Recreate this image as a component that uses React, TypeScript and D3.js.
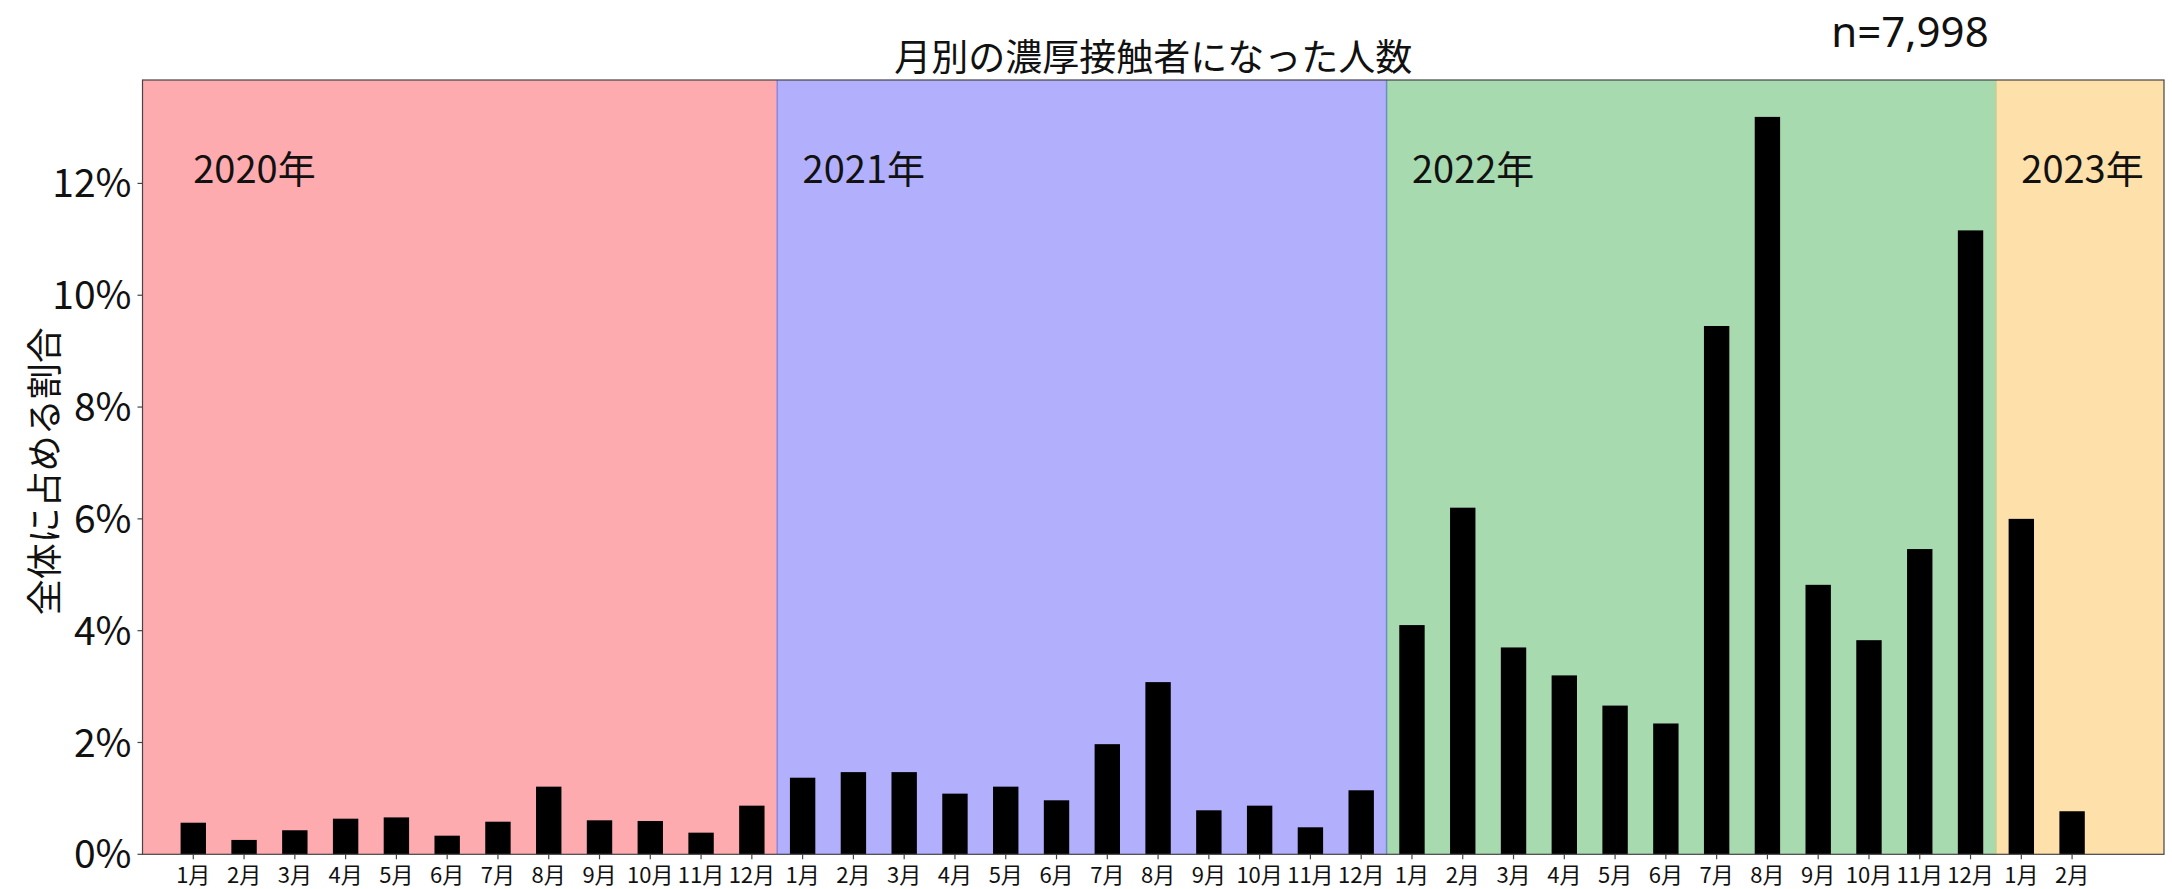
import React from "react";
import * as d3 from "d3";

const yearLabels = ["2020年", "2021年", "2022年", "2023年"];
const values2020 = [0.565, 0.257, 0.43, 0.637, 0.66, 0.333, 0.583, 1.21, 0.608, 0.596, 0.387, 0.87];
const values2021 = [1.37, 1.47, 1.47, 1.085, 1.21, 0.966, 1.97, 3.08, 0.787, 0.87, 0.483, 1.145];
const values2022 = [4.1, 6.2, 3.7, 3.2, 2.66, 2.34, 9.45, 13.19, 4.82, 3.83, 5.46, 11.16];
const values2023 = [6.0, 0.77];
const yTicks = [0, 2, 4, 6, 8, 10, 12];
const spanColors = ["#feabaf", "#b2b0fc", "#a8dab0", "#fee0aa"];
const edgeColors = ["#8c86e2", "#6592bf", "#c6cd8f"];
const title = "月別の濃厚接触者になった人数";
const nLabel = "n=7,998";
const yLabel = "全体に占める割合";

const W = 2172;
const H = 889;
const FONT = "'Noto Sans CJK JP', 'Noto Sans', sans-serif";

export default function App() {
  const series = [values2020, values2021, values2022, values2023];
  const bars: { label: string; value: number; idx: number }[] = [];
  const spans: { start: number; end: number; year: string; first: number }[] = [];
  let idx = 0;
  series.forEach((vals, yi) => {
    const first = idx;
    vals.forEach((v, mi) => {
      bars.push({ label: `${mi + 1}月`, value: v, idx });
      idx++;
    });
    spans.push({ start: first - 0.5, end: idx - 0.5, year: yearLabels[yi], first });
  });
  const xMin = -1;
  const xMax = 38.81;
  spans[0].start = xMin;
  spans[spans.length - 1].end = xMax;

  const left = 142.5, right = 2164, top = 80, bottom = 854.3;
  const x = d3.scaleLinear().domain([xMin, xMax]).range([left, right]);
  const y = d3.scaleLinear().domain([0, 13.85]).range([bottom, top]);
  const barW = x(0.5) - x(0);

  return (
    <svg width={W} height={H} style={{ position: "absolute", left: 0, top: 0, background: "#fff" }} fontFamily={FONT}>
      <rect x={0} y={0} width={W} height={H} fill="#fff" />
      {spans.map((s, i) => (
        <rect key={"s" + i} x={x(s.start)} y={top} width={x(s.end) - x(s.start)} height={bottom - top} fill={spanColors[i]} />
      ))}
      {spans.slice(1).map((s, i) => (
        <line key={"e" + i} x1={x(s.start)} x2={x(s.start)} y1={top} y2={bottom} stroke={edgeColors[i]} strokeWidth={1.5} />
      ))}
      {bars.map((b) => (
        <rect key={"b" + b.idx} x={x(b.idx) - barW / 2} y={y(b.value)} width={barW} height={y(0) - y(b.value)} fill="#000" />
      ))}
      {spans.map((s, i) => (
        <text key={"y" + i} x={x(s.first)} y={y(12)} fontSize={38} fill="#111">{s.year}</text>
      ))}
      <rect x={left} y={top} width={right - left} height={bottom - top} fill="none" stroke="#444" strokeWidth={1.2} />
      {yTicks.map((t) => (
        <g key={"yt" + t}>
          <line x1={left - 5} x2={left} y1={y(t)} y2={y(t)} stroke="#444" strokeWidth={1.2} />
          <text x={left - 11} y={y(t)} dy="0.36em" textAnchor="end" fontSize={39} fill="#111">{`${t}%`}</text>
        </g>
      ))}
      {bars.map((b) => (
        <g key={"xt" + b.idx}>
          <line x1={x(b.idx)} x2={x(b.idx)} y1={bottom} y2={bottom + 5} stroke="#444" strokeWidth={1.2} />
          <text x={x(b.idx)} y={883} textAnchor="middle" fontSize={22} fill="#111">{b.label}</text>
        </g>
      ))}
      <text x={(left + right) / 2} y={71} textAnchor="middle" fontSize={37} fill="#111">{title}</text>
      <text x={1910} y={47} textAnchor="middle" fontSize={42} fontFamily="'Noto Sans', sans-serif" fill="#111">{nLabel}</text>
      <text transform={`translate(45,${(top + bottom) / 2 + 4}) rotate(-90)`} textAnchor="middle" dy="0.35em" fontSize={36} fill="#111">{yLabel}</text>
    </svg>
  );
}
